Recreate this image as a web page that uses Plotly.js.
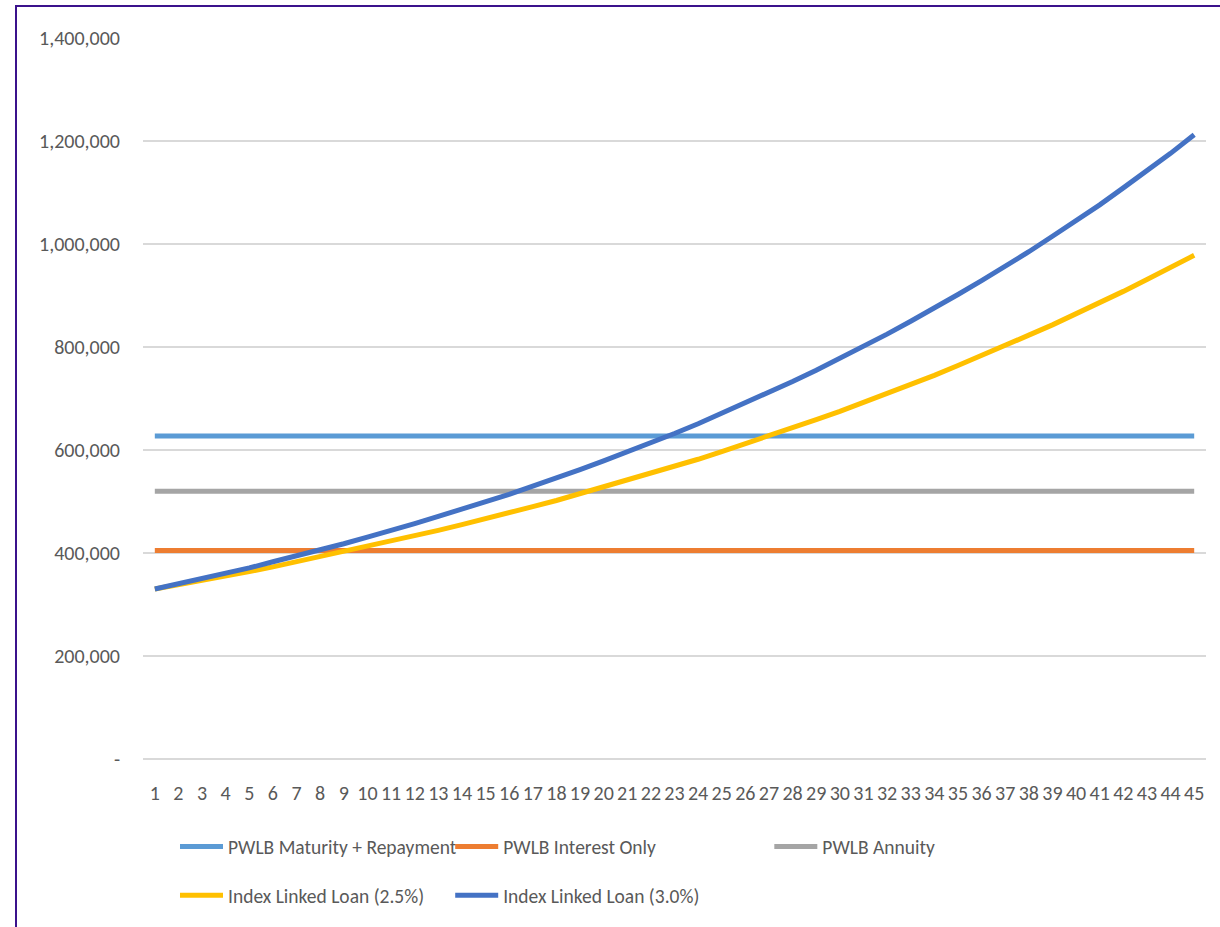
<!DOCTYPE html>
<html>
<head>
<meta charset="utf-8">
<script src="https://cdn.plot.ly/plotly-3.0.1.min.js"></script>
<style>
  html, body { margin: 0; padding: 0; background: #ffffff; }
  #wrap { position: relative; width: 1220px; height: 927px; overflow: hidden; }
  #frame { position: absolute; left: 15px; top: 5px; width: 1220px; height: 940px;
           border-top: 2px solid #3b128c; border-left: 2px solid #3b128c; pointer-events: none; }
  #chart { position: absolute; left: 0; top: 0; width: 1220px; height: 927px; }
</style>
</head>
<body>
<div id="wrap">
  <div id="chart"></div>
  <div id="frame"></div>
</div>
<script>
// Loan years 1..45
const years = ["1","2","3","4","5","6","7","8","9","10","11","12","13","14","15",
  "16","17","18","19","20","21","22","23","24","25","26","27","28","29","30",
  "31","32","33","34","35","36","37","38","39","40","41","42","43","44","45"];

// Flat annual costs of the PWLB options
const pwlbMaturityRepayment = Array(45).fill(627000);
const pwlbInterestOnly = Array(45).fill(405000);
const pwlbAnnuity = Array(45).fill(520000);

// Index linked loan annual costs
const indexLinked25 = [330000, 338000, 347000, 355000, 364000, 373000, 383000, 392000, 402000, 412000,
  422000, 433000, 444000, 455000, 466000, 478000, 490000, 502000, 515000, 528000,
  541000, 554000, 568000, 582000, 597000, 612000, 627000, 643000, 659000, 675000,
  692000, 710000, 727000, 745000, 764000, 783000, 803000, 823000, 843000, 864000,
  886000, 908000, 931000, 954000, 978000];
const indexLinked30 = [330000, 340000, 350000, 361000, 371000, 383000, 394000, 406000, 418000, 431000,
  443000, 457000, 471000, 485000, 499000, 514000, 530000, 545000, 562000, 579000,
  596000, 614000, 632000, 651000, 671000, 691000, 712000, 733000, 755000, 778000,
  801000, 825000, 850000, 875000, 902000, 929000, 956000, 985000, 1015000, 1045000,
  1076000, 1109000, 1142000, 1176000, 1212000];

const yTickVals = [0, 200000, 400000, 600000, 800000, 1000000, 1200000, 1400000];
const yTickText = ["-", "200,000", "400,000", "600,000", "800,000", "1,000,000", "1,200,000", "1,400,000"];

const seriesNames = ["PWLB Maturity + Repayment", "PWLB Interest Only", "PWLB Annuity",
  "Index Linked Loan (2.5%)", "Index Linked Loan (3.0%)"];
const seriesColors = ["#5b9bd5", "#ed7d31", "#a5a5a5", "#ffc000", "#4472c4"];
const seriesValues = [pwlbMaturityRepayment, pwlbInterestOnly, pwlbAnnuity, indexLinked25, indexLinked30];
const legendIds = ["legend", "legend2", "legend3", "legend4", "legend5"];

const FONT = "Carlito, Calibri, Lato, 'Liberation Sans', sans-serif";
const TEXT = "#595959";

const traces = seriesValues.map((vals, i) => ({
  type: "scatter",
  mode: "lines",
  x: years,
  y: vals,
  name: seriesNames[i],
  legend: legendIds[i],
  line: { color: seriesColors[i], width: 5 },
  hoverinfo: "x+y+name"
}));

// each legend entry placed in its own slot (two rows, three columns)
const legendSlots = [
  { x: 0.0301, y: -0.1217 },
  { x: 0.2890, y: -0.1217 },
  { x: 0.5892, y: -0.1217 },
  { x: 0.0301, y: -0.1895 },
  { x: 0.2890, y: -0.1895 }
];
function legendCfg(slot) {
  return {
    x: slot.x, y: slot.y, xanchor: "left", yanchor: "middle",
    orientation: "h", bgcolor: "rgba(0,0,0,0)", borderwidth: 0,
    font: { family: FONT, size: 19.5, color: TEXT },
    itemwidth: 43
  };
}

const layout = {
  width: 1220,
  height: 927,
  margin: { l: 143, r: 14, t: 38, b: 166 },
  paper_bgcolor: "#ffffff",
  plot_bgcolor: "#ffffff",
  font: { family: FONT, size: 20, color: TEXT },
  showlegend: true,
  xaxis: {
    type: "category",
    range: [-0.5, 44.5],
    tickmode: "array",
    tickvals: years,
    ticktext: years,
    showgrid: false,
    zeroline: false,
    showline: false,
    ticks: "",
    ticklabelstandoff: 20,
    tickangle: 0,
    tickfont: { family: FONT, size: 20, color: TEXT },
    fixedrange: true
  },
  yaxis: {
    range: [0, 1400000],
    tickvals: yTickVals,
    ticktext: yTickText,
    showgrid: true,
    gridcolor: "#d9d9d9",
    gridwidth: 1.5,
    zeroline: true,
    zerolinecolor: "#d9d9d9",
    zerolinewidth: 1.5,
    showline: false,
    ticks: "",
    ticklabelstandoff: 22,
    tickfont: { family: FONT, size: 20, color: TEXT },
    fixedrange: true
  },
  legend: legendCfg(legendSlots[0]),
  legend2: legendCfg(legendSlots[1]),
  legend3: legendCfg(legendSlots[2]),
  legend4: legendCfg(legendSlots[3]),
  legend5: legendCfg(legendSlots[4])
};

Plotly.newPlot("chart", traces, layout, { displayModeBar: false, staticPlot: true });
</script>
</body>
</html>
